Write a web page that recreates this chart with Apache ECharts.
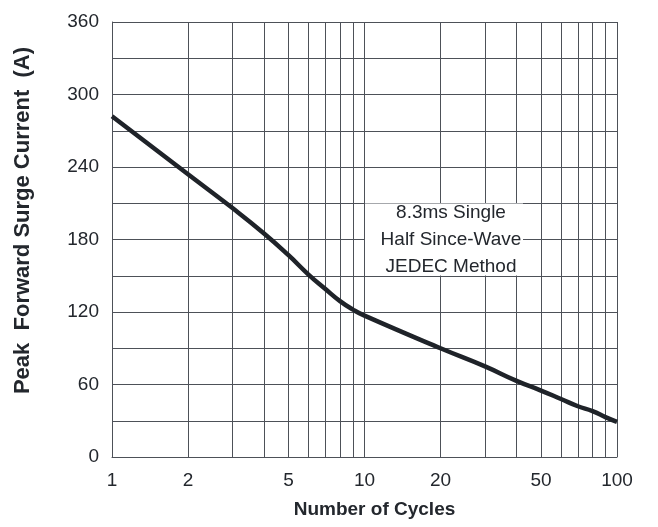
<!DOCTYPE html>
<html>
<head>
<meta charset="utf-8">
<script src="https://cdn.jsdelivr.net/npm/echarts@6/dist/echarts.min.js"></script>
<style>
html,body{margin:0;padding:0;background:#fff;}
#chart{width:658px;height:527px;}
</style>
</head>
<body>
<div id="chart"></div>
<script>
const cycles = [1, 2, 3, 4, 5, 6, 7, 8, 9, 10, 20, 30, 40, 50, 60, 70, 80, 90, 100];
const surgeCurrent = [282, 234, 206, 185, 167, 151, 139, 129, 122, 117, 90, 75, 63, 55, 48, 42, 38, 33, 29];
const xGridValues = [1, 2, 3, 4, 5, 6, 7, 8, 9, 10, 20, 30, 40, 50, 60, 70, 80, 90, 100];
const xLabelValues = [1, 2, 5, 10, 20, 50, 100];
const yLabelValues = [0, 60, 120, 180, 240, 300, 360];
const noteLines = ['8.3ms Single', 'Half Since-Wave', 'JEDEC Method'];

const FONT = '"Liberation Sans", Arial, Helvetica, sans-serif';
const GRID_COLOR = '#4d5158';
const TEXT_COLOR = '#23272d';

const chart = echarts.init(document.getElementById('chart'), null, {renderer: 'canvas'});
chart.setOption({
  animation: false,
  backgroundColor: '#fff',
  grid: {left: 112, right: 41, top: 22, bottom: 70, containLabel: false},
  xAxis: {
    type: 'log',
    logBase: 10,
    min: 1,
    max: 100,
    name: 'Number of Cycles',
    nameLocation: 'middle',
    nameGap: 43,
    nameTextStyle: {fontFamily: FONT, fontSize: 19, fontWeight: 'bold', color: TEXT_COLOR, padding: [0, 0, 0, 20]},
    axisLine: {show: true, lineStyle: {color: GRID_COLOR, width: 1}},
    axisTick: {show: false, customValues: xGridValues},
    minorTick: {show: false},
    axisLabel: {
      customValues: xLabelValues,
      margin: 14,
      fontFamily: FONT,
      fontSize: 19,
      color: TEXT_COLOR,
      formatter: v => String(Math.round(v))
    },
    splitLine: {show: true, lineStyle: {color: GRID_COLOR, width: 1}}
  },
  yAxis: {
    type: 'value',
    min: 0,
    max: 360,
    interval: 30,
    name: 'Peak  Forward Surge Current  (A)',
    nameLocation: 'middle',
    nameGap: 78,
    nameTextStyle: {fontFamily: FONT, fontSize: 22, fontWeight: 'bold', color: TEXT_COLOR, padding: [0, 0, 0, 38]},
    axisLine: {show: true, lineStyle: {color: GRID_COLOR, width: 1}},
    axisTick: {show: false},
    axisLabel: {
      customValues: yLabelValues,
      margin: 13,
      fontFamily: FONT,
      fontSize: 19,
      color: TEXT_COLOR
    },
    splitLine: {show: true, lineStyle: {color: GRID_COLOR, width: 1}}
  },
  graphic: [
    {
      type: 'rect',
      shape: {x: 365, y: 203.5, width: 158, height: 72},
      style: {fill: '#fff'},
      z: 10
    },
    {
      type: 'text',
      z: 11,
      style: {
        text: noteLines.join('\n'),
        x: 451,
        y: 239.5,
        align: 'center',
        verticalAlign: 'middle',
        fontFamily: FONT,
        fontSize: 19,
        lineHeight: 27,
        fill: TEXT_COLOR
      }
    }
  ],
  series: [{
    type: 'line',
    data: cycles.map((c, i) => [c, surgeCurrent[i]]),
    smooth: true,
    symbol: 'none',
    lineStyle: {color: '#1f2329', width: 4.5},
    z: 5
  }]
});
</script>
</body>
</html>
